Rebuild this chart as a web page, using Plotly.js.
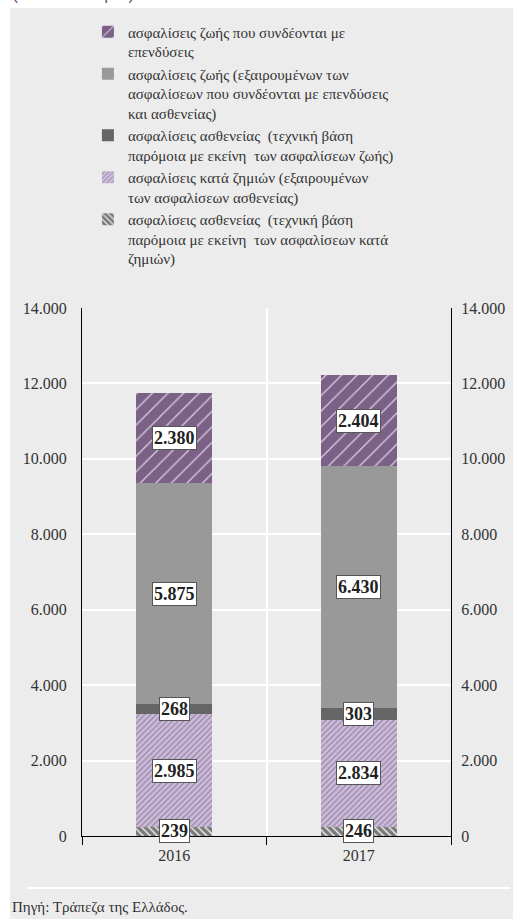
<!DOCTYPE html>
<html><head><meta charset="utf-8">
<script src="https://cdn.plot.ly/plotly-3.0.1.min.js"></script>
<style>html,body{margin:0;padding:0;background:#fff}</style>
</head><body>
<div id="chart" style="width:513px;height:919px"></div>
<script>
const years = ['2016', '2017'];
const seriesNames = [
  'ασφαλίσεις ασθενείας  (τεχνική βάση<br>παρόμοια με εκείνη  των ασφαλίσεων κατά<br>ζημιών)',
  'ασφαλίσεις κατά ζημιών (εξαιρουμένων<br>των ασφαλίσεων ασθενείας)',
  'ασφαλίσεις ασθενείας  (τεχνική βάση<br>παρόμοια με εκείνη  των ασφαλίσεων ζωής)',
  'ασφαλίσεις ζωής (εξαιρουμένων των<br>ασφαλίσεων που συνδέονται με επενδύσεις<br>και ασθενείας)',
  'ασφαλίσεις ζωής που συνδέονται με<br>επενδύσεις'
];
const healthNonLife = [239, 246];
const nonLife = [2985, 2834];
const healthLife = [268, 303];
const life = [5875, 6430];
const unitLinked = [2380, 2404];
const yTicks = [0, 2000, 4000, 6000, 8000, 10000, 12000, 14000];
const sourceText = 'Πηγή: Τράπεζα της Ελλάδος.';
const unitText = '(σε εκατ. ευρώ)';

const series = [healthNonLife, nonLife, healthLife, life, unitLinked];
const styles = [
  {color:'#7a7a7a', pattern:{shape:'\\', bgcolor:'#7a7a7a', fgcolor:'#e8e8e8', size:5, solidity:0.3}},
  {color:'#cbbbd8', pattern:{shape:'/', bgcolor:'#cbbbd8', fgcolor:'#8d7a9c', size:4, solidity:0.25}},
  {color:'#666666'},
  {color:'#999999'},
  {color:'#7b6186', pattern:{shape:'/', bgcolor:'#7b6186', fgcolor:'#d9cbe2', size:11, solidity:0.12}}
];
const serif = 'Liberation Serif';

const traces = series.map((vals, i) => ({
  type:'bar', x:years, y:vals, name:seriesNames[i],
  marker:Object.assign({line:{width:0}}, styles[i]),
  hoverinfo:'skip'
}));
traces.push({type:'scatter', x:years, y:[0, 0], yaxis:'y2', mode:'none', showlegend:false, hoverinfo:'skip'});

const annotations = [];
years.forEach((yr, j) => {
  let base = 0;
  series.forEach(vals => {
    const v = vals[j];
    annotations.push({
      x:j, y:base + v/2, xref:'x', yref:'y', showarrow:false,
      text:'<b>' + v.toLocaleString('de-DE') + '</b>',
      font:{family:serif, size:18, color:'#222'},
      bgcolor:'#ffffff', bordercolor:'#555555', borderwidth:1, borderpad:1
    });
    base += v;
  });
});
annotations.push({
  xref:'paper', yref:'paper', x:-0.195, y:-0.135, xanchor:'left', yanchor:'middle',
  text:sourceText, showarrow:false, font:{family:serif, size:15, color:'#333'}
});
annotations.push({
  xref:'paper', yref:'paper', x:-0.195, y:1.596, xanchor:'left', yanchor:'middle',
  text:unitText, showarrow:false, font:{family:'Liberation Sans', size:18, color:'#7b5a8c'}
});

const layout = {
  width:513, height:919,
  margin:{l:82, r:62, t:308, b:83},
  paper_bgcolor:'#ffffff', plot_bgcolor:'#ececec',
  separators:',.',
  barmode:'stack', bargap:0.59,
  showlegend:true,
  legend:{x:0.016, y:1.554, xanchor:'left', yanchor:'top', traceorder:'reversed',
    font:{family:serif, size:15, color:'#333'}, valign:'top', bgcolor:'rgba(0,0,0,0)',
    tracegroupgap:0},
  xaxis:{type:'category', range:[-0.5, 1.5], showline:true, linecolor:'#000', linewidth:1,
    ticks:'outside', ticklen:8, tickcolor:'#000', tickson:'boundaries',
    showgrid:true, gridcolor:'#ffffff', gridwidth:2, tickangle:0, ticklabelstandoff:5,
    tickfont:{family:serif, size:16, color:'#333'}},
  yaxis:{range:[0,14000], tickvals:yTicks, tickformat:',d', showline:true, linecolor:'#000',
    showgrid:true, gridcolor:'#ffffff', gridwidth:2, zeroline:false, ticks:'', ticklabelstandoff:11,
    tickfont:{family:serif, size:16, color:'#333'}},
  yaxis2:{range:[0,14000], tickvals:yTicks, tickformat:',d', overlaying:'y', side:'right', anchor:'x',
    showline:true, linecolor:'#000', showgrid:false, zeroline:false, ticks:'', ticklabelstandoff:6,
    tickfont:{family:serif, size:16, color:'#333'}},
  shapes:[
    {type:'rect', xref:'paper', yref:'paper', x0:(10-82)/369, x1:(513-82)/369, y0:(836-919)/528, y1:(836-8)/528,
     fillcolor:'#ececec', line:{width:0}, layer:'below'},
    {type:'line', xref:'paper', yref:'paper', x0:(27-82)/369, x1:(510-82)/369, y0:(836-888)/528, y1:(836-888)/528,
     line:{color:'#ffffff', width:2}}
  ],
  annotations:annotations
};
Plotly.newPlot('chart', traces, layout, {displayModeBar:false, staticPlot:true});
</script>
</body></html>
